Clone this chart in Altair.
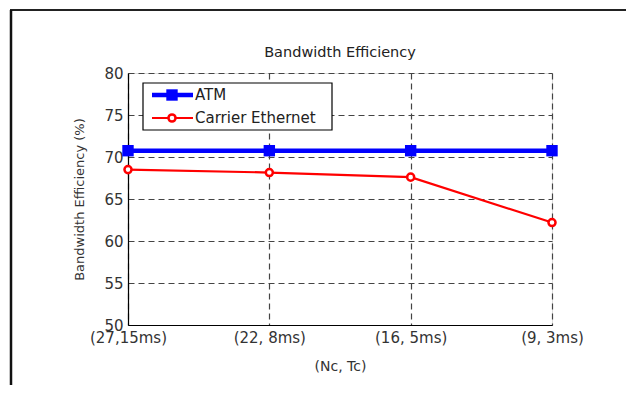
import altair as alt
import pandas as pd

categories = ["(27,15ms)", "(22, 8ms)", "(16, 5ms)", "(9, 3ms)"]
atm = [70.75, 70.75, 70.75, 70.75]
carrier_eth = [68.5, 68.15, 67.6, 62.2]
series_names = ["ATM", "Carrier Ethernet"]
y_ticks = [50, 55, 60, 65, 70, 75, 80]
chart_title = "Bandwidth Efficiency"

rows = []
for i, c in enumerate(categories):
    rows.append({"idx": i + 1, "cat": c, "series": series_names[0], "value": atm[i]})
    rows.append({"idx": i + 1, "cat": c, "series": series_names[1], "value": carrier_eth[i]})
df = pd.DataFrame(rows)

FONT = "DejaVu Sans"
label_expr = "[" + ",".join("'" + c + "'" for c in categories) + "][datum.value - 1]"

x = alt.X("idx:Q", scale=alt.Scale(domain=[1, 4], nice=False, zero=False),
          axis=alt.Axis(values=[1, 2, 3, 4], labelExpr=label_expr, title="(Nc, Tc)",
                        grid=True, gridDash=[6, 4], gridColor="#444", gridWidth=1.2,
                        domainColor="#000", domainWidth=1.2, ticks=False,
                        labelFont=FONT, labelFontSize=15, labelColor="#333",
                        labelPadding=5, titleFont=FONT, titleFontSize=14,
                        titleFontWeight="normal", titleColor="#333", titlePadding=14,
                        labelFlush=False))
y = alt.Y("value:Q", scale=alt.Scale(domain=[50, 80], nice=False, zero=False),
          axis=alt.Axis(values=y_ticks, title="Bandwidth Efficiency (%)",
                        grid=True, gridDash=[6, 4], gridColor="#444", gridWidth=1.2,
                        domainColor="#000", domainWidth=1.2, ticks=False,
                        labelFont=FONT, labelFontSize=15, labelColor="#333",
                        labelPadding=5, titleFont=FONT, titleFontSize=13,
                        titleFontWeight="normal", titleColor="#333", titlePadding=17))

base = alt.Chart(df)

atm_line = base.transform_filter(alt.datum.series == series_names[0]).mark_line(
    color="#0000ff", strokeWidth=4.5).encode(x=x, y=y)
atm_pts = base.transform_filter(alt.datum.series == series_names[0]).mark_point(
    shape="square", filled=True, color="#0000ff", size=130, opacity=1).encode(x=x, y=y)
ce_line = base.transform_filter(alt.datum.series == series_names[1]).mark_line(
    color="#ff0000", strokeWidth=2.2).encode(x=x, y=y)
ce_pts = base.transform_filter(alt.datum.series == series_names[1]).mark_point(
    shape="circle", filled=True, fill="white", stroke="#ff0000", strokeWidth=2.5,
    size=50, opacity=1).encode(x=x, y=y)

leg_df = pd.DataFrame({"series": series_names, "title": [chart_title, chart_title]})
one = alt.Chart(leg_df).transform_filter(alt.datum.series == series_names[0])

title_mark = one.mark_text(align="center", baseline="middle", font=FONT, fontSize=14.5,
                           color="#222").encode(
    x=alt.value(212), y=alt.value(-20), text="title:N")

leg_box = one.mark_rect(fill="white", stroke="#000", strokeWidth=1.2).encode(
    x=alt.value(15), x2=alt.value(204), y=alt.value(10), y2=alt.value(57))
leg_layers = []
for name, ypos, col, sw in [(series_names[0], 22, "#0000ff", 4.5), (series_names[1], 45, "#ff0000", 2.2)]:
    d = alt.Chart(leg_df).transform_filter(alt.datum.series == name)
    leg_layers.append(d.mark_rule(color=col, strokeWidth=sw).encode(
        x=alt.value(24), x2=alt.value(65), y=alt.value(ypos)))
    if name == series_names[0]:
        leg_layers.append(d.mark_point(shape="square", filled=True, color=col, size=130, opacity=1).encode(
            x=alt.value(44), y=alt.value(ypos)))
    else:
        leg_layers.append(d.mark_point(shape="circle", filled=True, fill="white", stroke=col,
                                       strokeWidth=2.5, size=50, opacity=1).encode(
            x=alt.value(44), y=alt.value(ypos)))
    leg_layers.append(d.mark_text(align="left", baseline="middle", font=FONT, fontSize=15,
                                  color="#222").encode(
        x=alt.value(67), y=alt.value(ypos), text="series:N"))

frame_top = one.mark_rule(color="#222", strokeWidth=2).encode(
    x=alt.value(-118), x2=alt.value(498), y=alt.value(-63))
frame_left = one.mark_rule(color="#111", strokeWidth=2.5).encode(
    x=alt.value(-117), y=alt.value(-63), y2=alt.value(340))

chart = alt.layer(
    atm_line, ce_line, atm_pts, ce_pts, leg_box, *leg_layers, title_mark, frame_top, frame_left
).properties(
    width=424, height=252,
    autosize=alt.AutoSizeParams(type="none"),
    padding={"left": 120, "top": 65, "right": 74, "bottom": 60},
).configure_view(stroke=None).configure(background="white")

chart.save("out.html", embed_options={"renderer": "svg", "actions": False})
